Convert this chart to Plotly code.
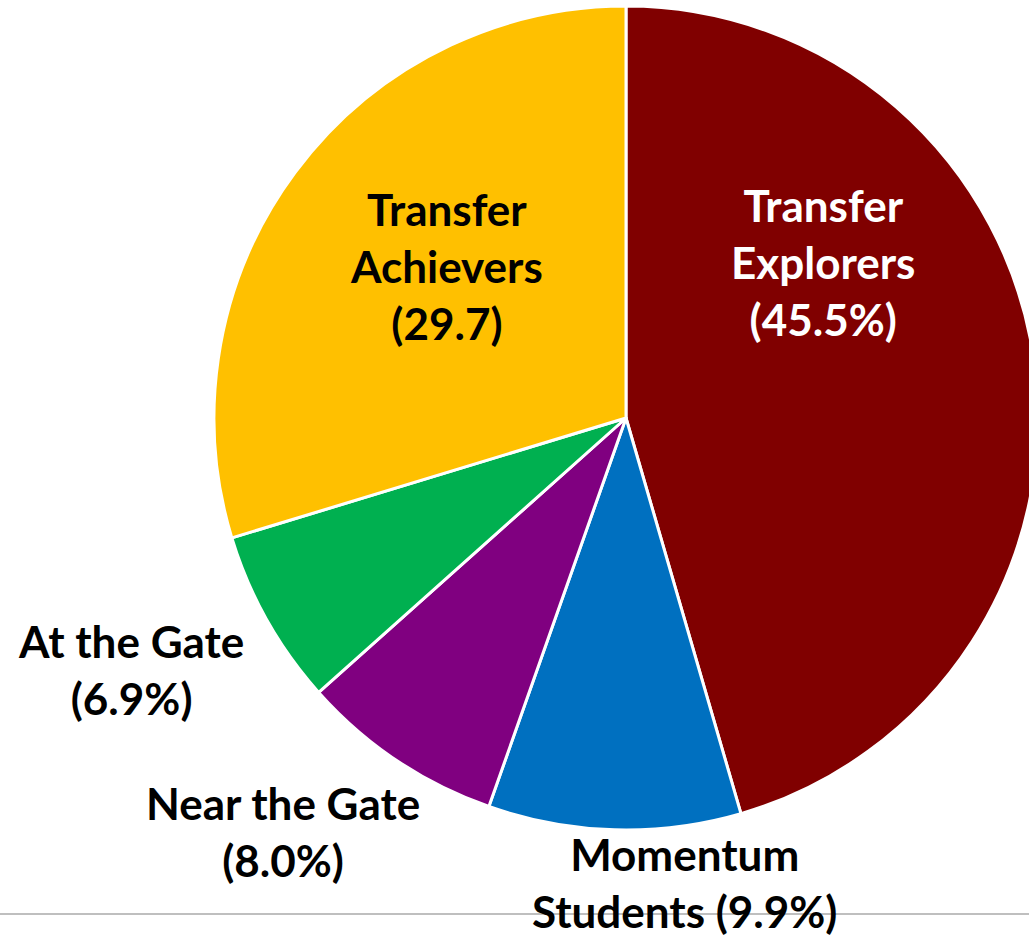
import plotly.graph_objects as go

# Data
categories = ["Transfer Explorers", "Momentum Students", "Near the Gate", "At the Gate", "Transfer Achievers"]
shares = [45.5, 9.9, 8.0, 6.9, 29.7]
colors = ["#800000", "#0070C0", "#800080", "#00B050", "#FFC000"]
label_texts = [
    "Transfer<br>Explorers<br>(45.5%)",
    "Momentum<br>Students (9.9%)",
    "Near the Gate<br>(8.0%)",
    "At the Gate<br>(6.9%)",
    "Transfer<br>Achievers<br>(29.7)",
]
label_colors = ["white", "black", "black", "black", "black"]
# label centres in pixels (x, y from top)
label_pos = [(823, 262), (684, 882), (283, 831), (131, 669), (446, 266)]

W, H = 1040, 939

fig = go.Figure()
fig.add_trace(go.Pie(
    labels=categories,
    values=shares,
    sort=False,
    direction="clockwise",
    rotation=0,
    marker=dict(colors=colors, line=dict(color="white", width=3)),
    textinfo="none",
    hoverinfo="label+percent",
    domain=dict(x=[214 / W, 1038 / W], y=[(H - 830) / H, (H - 6) / H]),
    showlegend=False,
))

for txt, col, (px, py) in zip(label_texts, label_colors, label_pos):
    fig.add_annotation(
        x=px / W, y=1 - py / H, xref="paper", yref="paper",
        text=txt, showarrow=False, xanchor="center", yanchor="middle",
        align="center",
        font=dict(family="Lato", size=44, color=col, weight="bold"),
    )

fig.add_shape(type="line", xref="paper", yref="paper",
              x0=0, x1=1, y0=1 - 914 / H, y1=1 - 914 / H,
              line=dict(color="#BFBFBF", width=2), layer="below")

fig.update_layout(
    width=W, height=H,
    margin=dict(l=0, r=0, t=0, b=0),
    paper_bgcolor="white", plot_bgcolor="white",
)

fig.write_html(
    "out.html",
    config={"displayModeBar": False},
    post_script="document.body.style.margin='0';document.body.style.overflow='hidden';",
)
